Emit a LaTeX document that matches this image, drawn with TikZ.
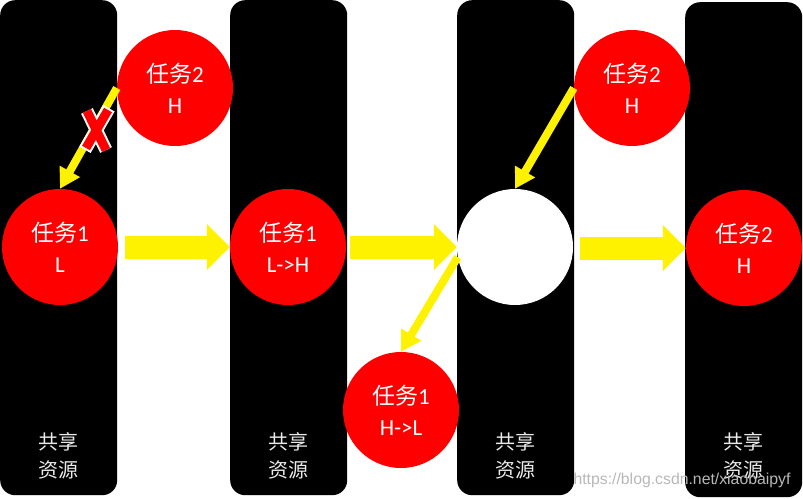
\documentclass[tikz,border=0pt]{standalone}
\usepackage{fontspec}
\setmainfont{Carlito}
\newfontfamily\cjk{Noto Sans CJK SC}
\newfontfamily\wmfont{Liberation Sans}
\usetikzlibrary{arrows.meta}
\definecolor{wmgray}{HTML}{B8B8B8}
\begin{document}
\begin{tikzpicture}[x=1pt,y=-1pt,
  bar/.style={rectangle, fill=black, rounded corners=15pt, minimum width=117pt, minimum height=495pt, inner sep=0pt, anchor=north west},
  bartext/.style={text=white!92!black, align=center, font=\cjk\fontsize{20}{28}\selectfont, inner sep=0pt},
  task/.style={circle, fill=red, minimum size=116pt, inner sep=0pt, text=white, align=center, font=\fontsize{23}{31}\selectfont},
  freecircle/.style={circle, fill=white, minimum size=116pt, inner sep=0pt},
  bigarrow/.style={draw=yellow, line width=23pt, -{Triangle[width=45pt,length=23pt]}},
  thinarrow/.style={draw=yellow, line width=8pt, -{Triangle[width=22pt,length=20pt]}},
  wm/.style={text=wmgray, font=\wmfont\fontsize{15.8}{18}\selectfont, inner sep=0pt}
]
\useasboundingbox (0,0) rectangle (803,498);
% bars
\node[bar] (b1) at (0,0) {};
\node[bar] (b2) at (230,0) {};
\node[bar] (b3) at (457,0) {};
\node[bar] (b4) at (685,2) {};
% bar labels
\node[bartext] (s1) at (58.5,456) {共享\\资源};
\node[bartext] (s2) at (288,456) {共享\\资源};
\node[bartext] (s3) at (515.5,456) {共享\\资源};
\node[bartext] (s4) at (743.5,456) {共享\\资源};
% tasks
\node[task] (t2a) at (175,88) {{\cjk 任务}2\\H};
\node[task] (t1a) at (60,247) {{\cjk 任务}1\\L};
\node[task] (t1b) at (288,247) {{\cjk 任务}1\\L->H};
\node[freecircle] (wc) at (515,247) {};
\node[task] (t2b) at (632,88) {{\cjk 任务}2\\H};
\node[task] (t1c) at (401,410) {{\cjk 任务}1\\H->L};
\node[task] (t2c) at (744,248) {{\cjk 任务}2\\H};
% big arrows
\coordinate (a1) at (125,247);
\coordinate (a2) at (350,247);
\coordinate (a3) at (580,248);
\draw[bigarrow] (a1) -- (t1b.west);
\draw[bigarrow] (a2) -- (wc.west);
\draw[bigarrow] (a3) -- (t2c.west);
% thin arrows
\draw[thinarrow] (t2a.west) -- (t1a.north);
\draw[thinarrow] (wc.190) -- (t1c.north);
\draw[thinarrow] (t2b.west) -- (wc.north);
% red cross
\draw[white, line width=13pt, shorten <=-2pt, shorten >=-2pt] (87,111) -- (106,150) (108,110) -- (86,148);
\draw[red, line width=9pt] (87,111) -- (106,150) (108,110) -- (86,148);
% watermark
\node[wm] (w) at (682,480) {https://blog.csdn.net/xiaobaipyf};
\end{tikzpicture}
\end{document}
